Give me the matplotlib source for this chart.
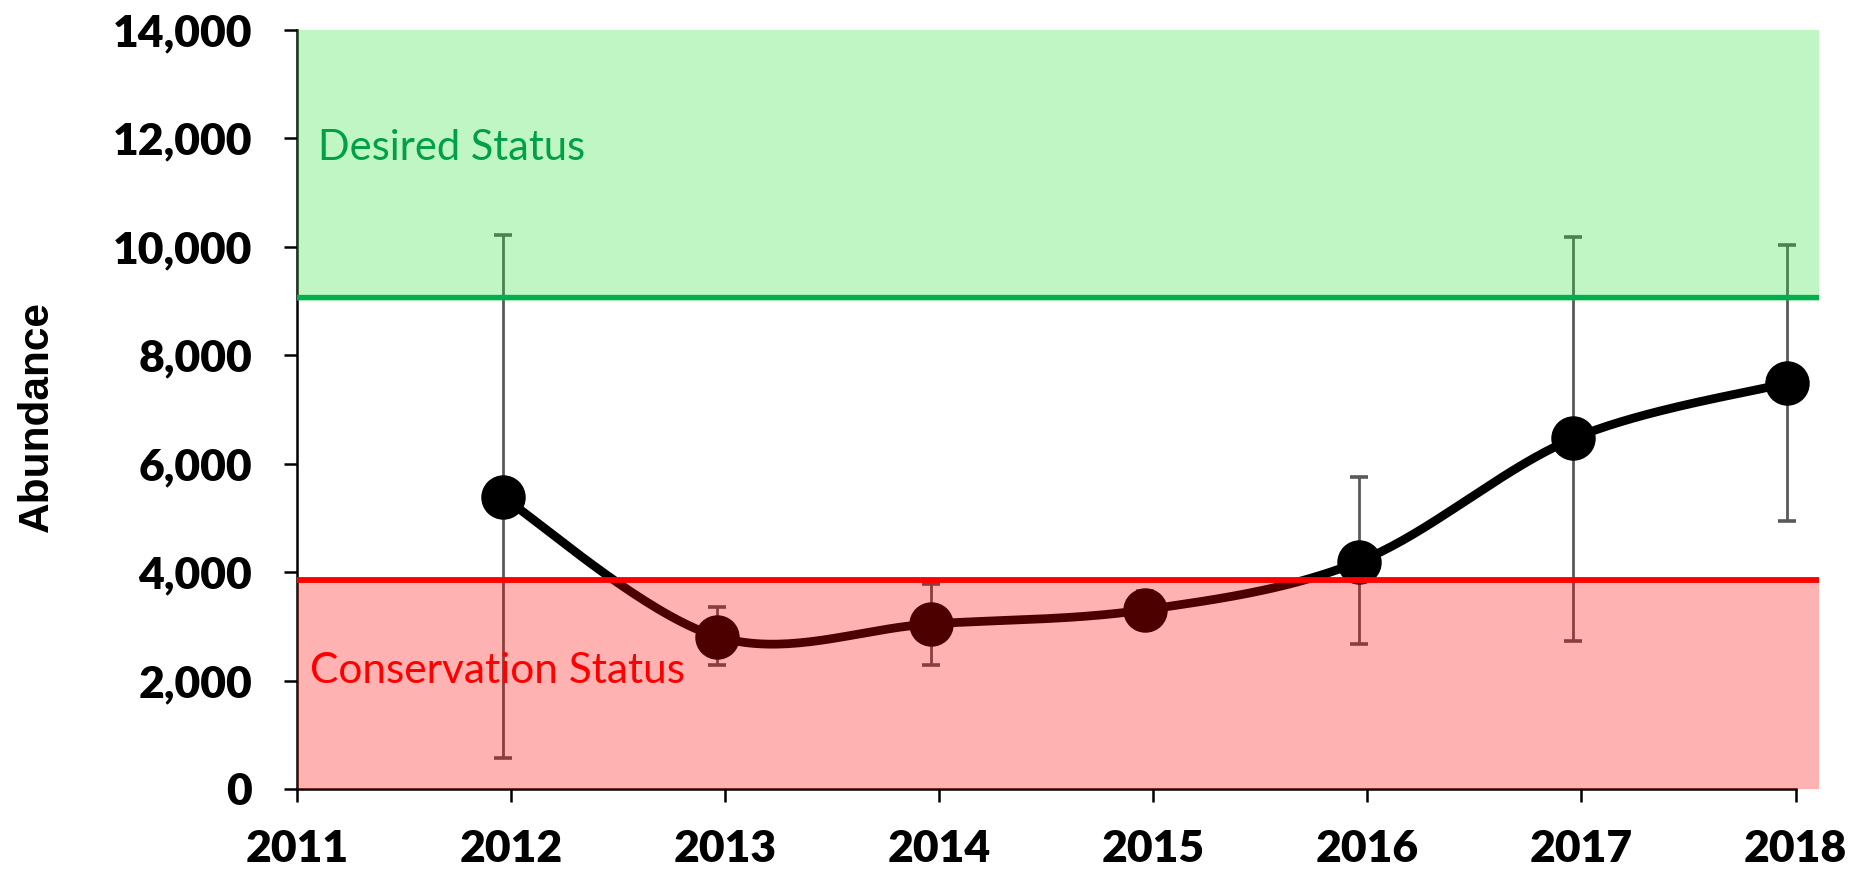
import numpy as np
import matplotlib
matplotlib.use("Agg")
import matplotlib.pyplot as plt
import matplotlib.ticker as mticker

# survey dates (decimal years) and abundance estimates
survey_dates = [2011.962, 2012.962, 2013.962, 2014.962, 2015.962, 2016.962, 2017.962]
abundance = [5380, 2810, 3045, 3305, 4195, 6465, 7490]
ci_low = [570, 2287, 2282, 2952, 2682, 2730, 4950]
ci_high = [10215, 3365, 3786, 3658, 5755, 10188, 10030]

year_ticks = [2011, 2012, 2013, 2014, 2015, 2016, 2017, 2018]
abund_ticks = [0, 2000, 4000, 6000, 8000, 10000, 12000, 14000]

desired_level = 9080
desired_band = (9000, 14000)
conservation_level = 3855
conservation_band = (0, 3900)


def smooth_curve(xs, ys, n=40):
    # Excel-style smoothed line (cubic Bezier through the points)
    P = np.column_stack([xs, ys]).astype(float)
    ext = np.vstack([P[0], P, P[-1]])
    t = np.linspace(0, 1, n)[:, None]
    parts = []
    for i in range(len(P) - 1):
        p0, p1, p2, p3 = ext[i], ext[i + 1], ext[i + 2], ext[i + 3]
        c1 = p1 + (p2 - p0) / 6
        c2 = p2 - (p3 - p1) / 6
        seg = (1 - t) ** 3 * p1 + 3 * (1 - t) ** 2 * t * c1 + 3 * (1 - t) * t ** 2 * c2 + t ** 3 * p2
        parts.append(seg if i == 0 else seg[1:])
    return np.vstack(parts)


fig = plt.figure(figsize=(18.53, 8.74), dpi=100)
ax = fig.add_axes([0.1603, 0.0973, 0.8214, 0.8684])

y = np.array(abundance)
ax.errorbar(survey_dates, abundance,
            yerr=[y - np.array(ci_low), np.array(ci_high) - y],
            fmt="none", ecolor="#595959", elinewidth=2.0,
            capsize=6.8, capthick=2.6, zorder=2)

curve = smooth_curve(survey_dates, abundance)
ax.plot(curve[:, 0], curve[:, 1], color="black", lw=6.3, solid_capstyle="round", zorder=2)
ax.plot(survey_dates, abundance, "o", color="black", markersize=31, zorder=2.2)

# status bands drawn translucent over the data
ax.axhspan(*desired_band, color=(48 / 255, 222 / 255, 62 / 255), alpha=0.3, lw=0, zorder=3)
ax.axhspan(*conservation_band, color="red", alpha=0.3, lw=0, zorder=3)
ax.axhline(desired_level, color="#00B050", lw=3.8, zorder=4)
ax.axhline(conservation_level, color="#FF0000", lw=4.2, zorder=4)

ax.text(2011.10, 11602, "Desired Status", color="#00A046", fontsize=30,
        family="Lato", ha="left", va="baseline", zorder=5)
ax.text(2011.06, 1950, "Conservation Status", color="#FF0000", fontsize=30.5,
        family="Lato", ha="left", va="baseline", zorder=5)

ax.set_xlim(2011, 2018.11)
ax.set_ylim(0, 14000)
ax.set_xticks(year_ticks)
ax.set_yticks(abund_ticks)
ax.yaxis.set_major_formatter(mticker.FuncFormatter(lambda v, _: f"{int(v):,}"))

for s in ["top", "right"]:
    ax.spines[s].set_visible(False)
for s in ["left", "bottom"]:
    ax.spines[s].set_linewidth(1.8)
ax.spines["bottom"].set_bounds(2011, 2018)

ax.tick_params(axis="both", direction="out", length=9.5, width=1.8)
ax.tick_params(axis="y", pad=23)
ax.tick_params(axis="x", pad=19)
for lab in ax.get_xticklabels() + ax.get_yticklabels():
    lab.set_fontfamily("Lato")
    lab.set_fontweight("heavy")
    lab.set_fontsize(32)

ax.set_ylabel("Abundance", fontsize=30.5, fontweight="bold", family="Liberation Sans")
ax.yaxis.set_label_coords(-0.158, 0.491)

fig.savefig("out.png", dpi=100)
